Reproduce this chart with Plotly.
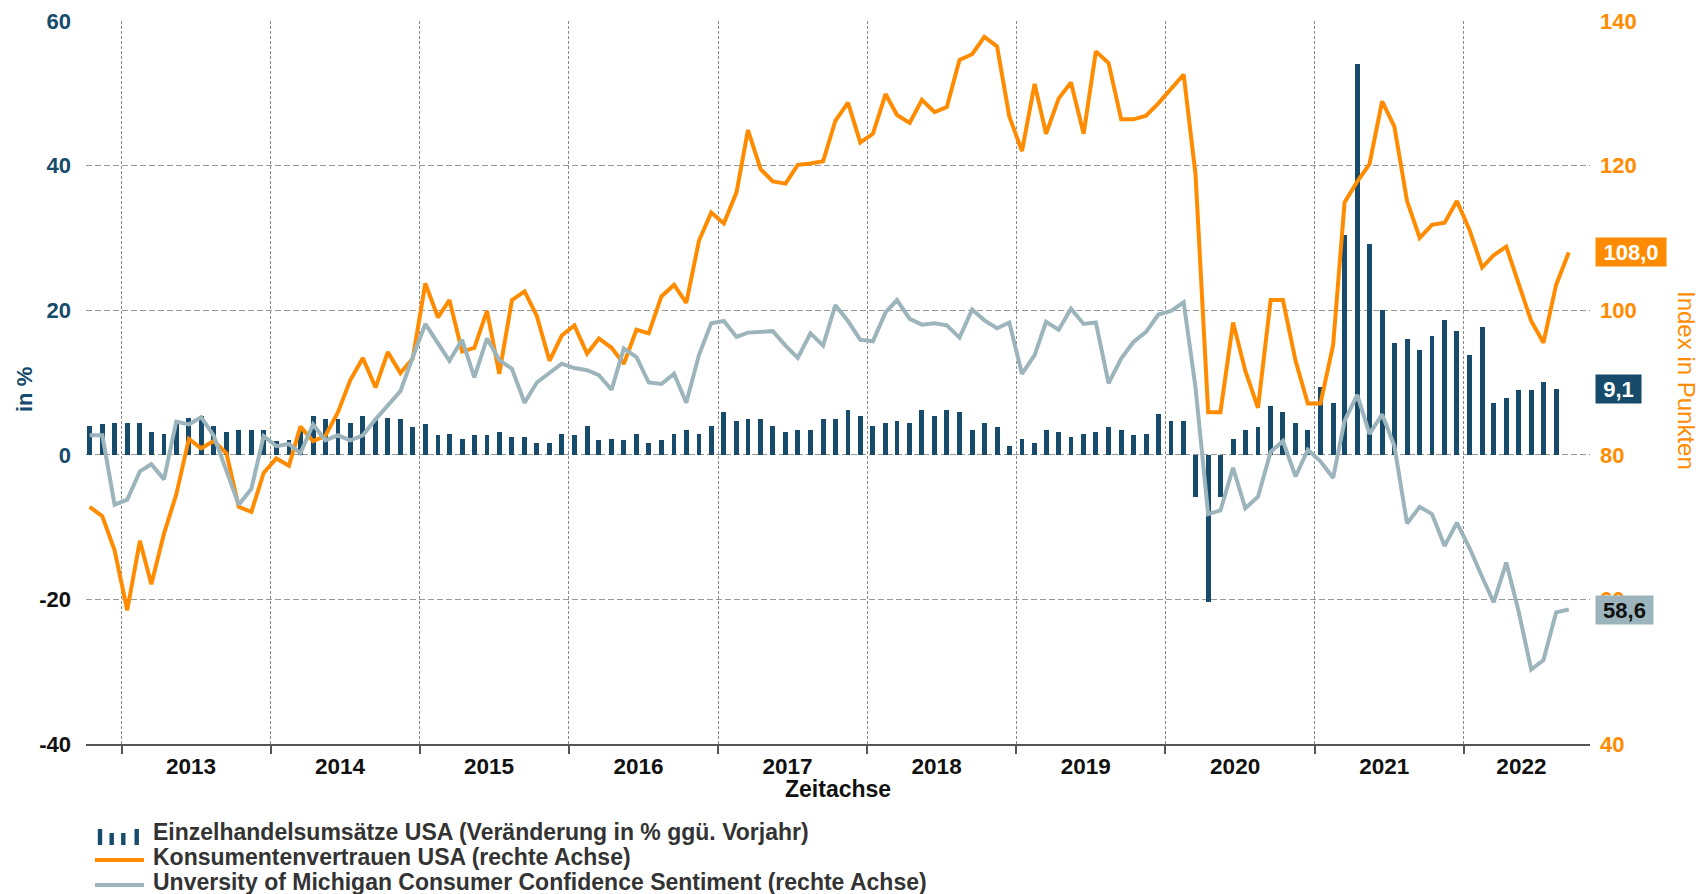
import pandas as pd
import plotly.graph_objects as go

# ---------------- data ----------------
months = [d + pd.Timedelta(days=14) for d in pd.date_range("2012-10-01", "2022-09-01", freq="MS")]

# US retail sales, % change y/y (Oct 2012 - Aug 2022)
retail_yoy = [
    4.0, 4.2, 4.4,
    4.4, 4.4, 3.2, 2.9, 4.4, 5.1, 5.4, 4.0, 3.2, 3.4, 3.4, 3.4,
    1.9, 2.0, 3.3, 5.4, 4.9, 4.9, 4.4, 5.4, 4.9, 5.1, 4.9, 3.8,
    4.2, 2.7, 2.9, 2.2, 2.7, 2.7, 3.2, 2.4, 2.4, 1.7, 1.7, 2.9,
    2.7, 4.0, 2.0, 2.2, 2.0, 2.9, 1.7, 2.0, 2.9, 3.4, 2.9, 4.0,
    5.9, 4.7, 4.9, 4.9, 4.0, 3.2, 3.4, 3.4, 4.9, 4.9, 6.2, 5.4,
    4.0, 4.4, 4.7, 4.4, 6.2, 5.4, 6.2, 5.9, 3.4, 4.4, 3.8, 1.2,
    2.2, 1.7, 3.4, 3.1, 2.4, 2.9, 3.1, 3.8, 3.4, 2.7, 2.9, 5.6,
    4.7, 4.7, -5.8, -20.3, -5.8, 2.2, 3.4, 3.8, 6.7, 5.9, 4.4, 3.4,
    9.4, 7.1, 30.4, 54.0, 29.1, 20.0, 15.5, 16.0, 14.5, 16.5, 18.7, 17.1,
    13.8, 17.7, 7.1, 7.8, 8.9, 8.9, 10.1, 9.1,
]

# Conference Board consumer confidence (Oct 2012 - Sep 2022)
conf_board = [
    72.8, 71.5, 66.8,
    58.5, 68.1, 62.1, 69.1, 74.5, 82.2, 80.9, 81.9, 80.2, 72.8, 72.1, 77.5,
    79.5, 78.5, 83.9, 81.9, 82.6, 85.9, 90.3, 93.4, 89.3, 94.2, 91.3, 93.3,
    103.7, 99.0, 101.4, 94.3, 94.8, 99.9, 91.2, 101.4, 102.6, 99.2, 93.0, 96.5,
    97.9, 94.0, 96.1, 94.8, 92.6, 97.3, 96.8, 101.9, 103.5, 101.0, 109.6, 113.5,
    112.0, 116.3, 124.9, 119.5, 117.8, 117.5, 120.1, 120.3, 120.6, 126.2, 128.7, 123.2,
    124.4, 129.9, 127.0, 125.9, 129.1, 127.4, 128.1, 134.6, 135.4, 137.8, 136.5, 126.8,
    122.0, 131.3, 124.4, 129.3, 131.5, 124.4, 135.8, 134.2, 126.4, 126.4, 126.9, 128.6,
    130.6, 132.6, 118.8, 85.9, 85.9, 98.3, 91.6, 86.5, 101.4, 101.4, 93.0, 87.1,
    87.1, 95.2, 114.9, 117.8, 120.2, 128.9, 125.4, 115.1, 110.0, 111.8, 112.1, 115.1,
    111.1, 105.9, 107.6, 108.8, 103.7, 98.5, 95.5, 103.5, 108.0,
]

# University of Michigan consumer sentiment (Oct 2012 - Sep 2022)
umich = [
    82.7, 82.7, 73.1,
    73.8, 77.7, 78.7, 76.6, 84.6, 84.2, 85.2, 82.6, 77.8, 73.1, 75.3, 82.6,
    81.2, 81.5, 80.2, 84.2, 82.0, 82.7, 82.0, 82.7, 84.9, 86.9, 88.8, 93.5,
    98.1, 95.4, 93.0, 95.9, 90.7, 96.1, 93.1, 91.9, 87.2, 90.0, 91.3, 92.6,
    92.0, 91.7, 91.0, 89.0, 94.7, 93.5, 90.0, 89.8, 91.2, 87.2, 93.8, 98.2,
    98.5, 96.3, 96.9, 97.0, 97.1, 95.1, 93.4, 96.8, 95.1, 100.7, 98.5, 95.9,
    95.7, 99.7, 101.4, 98.8, 98.0, 98.2, 97.9, 96.2, 100.1, 98.6, 97.5, 98.3,
    91.2, 93.8, 98.4, 97.3, 100.2, 98.1, 98.3, 89.9, 93.3, 95.6, 97.0, 99.4,
    99.9, 101.1, 89.3, 71.8, 72.3, 78.2, 72.6, 74.2, 80.4, 81.9, 77.0, 80.7,
    79.1, 76.8, 84.7, 88.3, 82.9, 85.6, 81.2, 70.5, 72.8, 71.8, 67.4, 70.6,
    67.1, 63.1, 59.6, 65.1, 58.4, 50.3, 51.6, 58.2, 58.6,
]

year_ticks = [f"{y}-01-01" for y in range(2013, 2023)]
year_label_pos = [f"{y}-06-20" for y in range(2013, 2022)] + ["2022-05-22"]
year_labels = [str(y) for y in range(2013, 2023)]

left_ticks = [-40, -20, 0, 20, 40, 60]
right_ticks = [40, 60, 80, 100, 120, 140]

NAME_RETAIL = "Einzelhandelsumsätze USA (Veränderung in % ggü. Vorjahr)"
NAME_CB = "Konsumentenvertrauen USA (rechte Achse)"
NAME_UM = "Unversity of Michigan Consumer Confidence Sentiment (rechte Achse)"

# ---------------- styling ----------------
BLUE = "#164b6b"
ORANGE = "#ff8c00"
GREY = "#9cb4bc"
TXT = "#333333"
FONT = "Liberation Sans, Arial, sans-serif"

W, H = 1700, 894
L, R, T, B = 86, 110, 21, 150
PW, PH = W - L - R, H - T - B


def px_x(px):
    return (px - L) / PW


def px_y(py):
    return (H - B - py) / PH


def fmt(v):
    return f"{v:.1f}".replace(".", ",")


fig = go.Figure()

fig.add_trace(go.Bar(
    x=months[:len(retail_yoy)], y=retail_yoy, name=NAME_RETAIL,
    marker=dict(color=BLUE, line=dict(width=0)),
    width=12 * 24 * 3600 * 1000, yaxis="y",
))
fig.add_trace(go.Scatter(
    x=months[:len(conf_board)], y=conf_board, name=NAME_CB, mode="lines",
    line=dict(color=ORANGE, width=4), yaxis="y2",
))
fig.add_trace(go.Scatter(
    x=months[:len(umich)], y=umich, name=NAME_UM, mode="lines",
    line=dict(color=GREY, width=4), yaxis="y2",
))

left_text = [
    (f'<span style="color:{BLUE}">{v}</span>' if v >= 0 else f'<span style="color:#111111">{v}</span>')
    for v in left_ticks
]

fig.update_layout(
    width=W, height=H,
    margin=dict(l=L, r=R, t=T, b=B, autoexpand=False),
    paper_bgcolor="white", plot_bgcolor="white",
    showlegend=False,
    font=dict(family=FONT, size=22, color=TXT),
    bargap=0,
    xaxis=dict(
        type="date",
        range=["2012-10-06", "2022-11-06"],
        tickmode="array", tickvals=year_label_pos, ticktext=year_labels,
        ticks="", showgrid=False, zeroline=False,
        tickfont=dict(family=FONT, size=22.5, color="#111111", weight="bold"),
        ticklabelstandoff=1,
        showline=True, linecolor="#555555", linewidth=1.5,
        minor=dict(
            tickmode="array", tickvals=year_ticks,
            ticks="outside", ticklen=8, tickwidth=1.5, tickcolor="#555555",
            showgrid=True, gridcolor="#8a8a8a", gridwidth=1, griddash="3px,2px",
        ),
    ),
    yaxis=dict(
        range=[-40, 60],
        tickmode="array", tickvals=left_ticks, ticktext=left_text,
        tickfont=dict(family=FONT, size=22, weight="bold"),
        ticks="", ticklabelstandoff=14,
        showgrid=True, gridcolor="#999999", gridwidth=1, griddash="6px,3px",
        zeroline=False, showline=False,
    ),
    yaxis2=dict(
        range=[40, 140], overlaying="y", side="right",
        tickmode="array", tickvals=right_ticks,
        tickfont=dict(family=FONT, size=22, color=ORANGE, weight="bold"),
        ticks="", ticklabelstandoff=9,
        showgrid=False, zeroline=False, showline=False,
    ),
)

annotations = [
    # value tags at the right edge
    dict(text=f"<b>{fmt(conf_board[-1])}</b>", x=px_x(1595), xref="paper", xanchor="left",
         y=conf_board[-1], yref="y2", yanchor="middle", showarrow=False,
         bgcolor=ORANGE, width=70, height=28, borderpad=0, align="center",
         font=dict(family=FONT, size=22, color="white")),
    dict(text=f"<b>{fmt(retail_yoy[-1])}</b>", x=px_x(1595), xref="paper", xanchor="left",
         y=retail_yoy[-1], yref="y", yanchor="middle", showarrow=False,
         bgcolor=BLUE, width=45, height=28, borderpad=0, align="center",
         font=dict(family=FONT, size=22, color="white")),
    dict(text=f"<b>{fmt(umich[-1])}</b>", x=px_x(1595), xref="paper", xanchor="left",
         y=umich[-1], yref="y2", yanchor="middle", showarrow=False,
         bgcolor=GREY, width=57, height=28, borderpad=0, align="center",
         font=dict(family=FONT, size=22, color="#111111")),
    # axis titles
    dict(text="<b>in %</b>", x=px_x(24), y=px_y(390), xref="paper", yref="paper",
         textangle=-90, showarrow=False, xanchor="center", yanchor="middle",
         font=dict(family=FONT, size=22, color=BLUE)),
    dict(text="Index in Punkten", x=px_x(1687), y=px_y(380), xref="paper", yref="paper",
         textangle=90, showarrow=False, xanchor="center", yanchor="middle",
         font=dict(family=FONT, size=24, color=ORANGE)),
    dict(text="<b>Zeitachse</b>", x=0.5, y=px_y(789), xref="paper", yref="paper",
         showarrow=False, xanchor="center", yanchor="middle",
         font=dict(family=FONT, size=23, color="#111111")),
]

# custom legend (text)
legend_rows = [(NAME_RETAIL, 832), (NAME_CB, 857), (NAME_UM, 882)]
for name, py in legend_rows:
    annotations.append(dict(
        text=f"<b>{name}</b>", x=px_x(151), y=px_y(py), xref="paper", yref="paper",
        xanchor="left", yanchor="middle", showarrow=False,
        font=dict(family=FONT, size=23, color=TXT),
    ))

shapes = []
# legend symbol for bars
for cx, top in [(100, 829), (111.7, 833), (123.3, 833), (136.7, 829)]:
    shapes.append(dict(type="rect", xref="paper", yref="paper",
                       x0=px_x(cx - 2.2), x1=px_x(cx + 2.2), y0=px_y(845), y1=px_y(top),
                       fillcolor=BLUE, line=dict(width=0)))
# legend symbols for lines
for color, py in [(ORANGE, 860), (GREY, 885)]:
    shapes.append(dict(type="line", xref="paper", yref="paper",
                       x0=px_x(95), x1=px_x(144), y0=px_y(py), y1=px_y(py),
                       line=dict(color=color, width=4)))

fig.update_layout(annotations=annotations, shapes=shapes)

fig.write_html(
    "out.html",
    config={"displayModeBar": False},
    post_script="document.body.style.margin='0px';document.body.style.overflow='hidden';",
)
